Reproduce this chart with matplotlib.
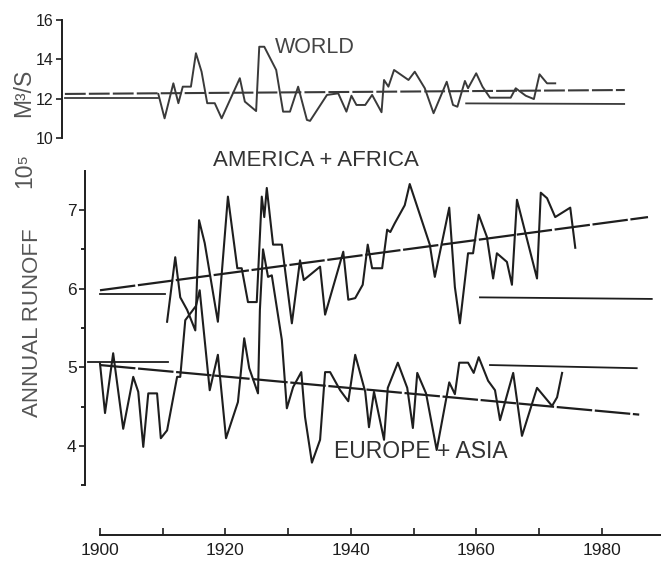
"""
Annual runoff: world total and the two continental groups, with trend and mean lines.
"""
import matplotlib
matplotlib.use("Agg")
from matplotlib import pyplot as plt

# world series (top panel), vertices
world_years = [1909.3, 1910.3, 1911.7, 1912.5, 1913.2, 1914.5, 1915.3, 1916.2, 1917.1,
               1918.3, 1919.4, 1922.3, 1923.1, 1924.9, 1925.4, 1926.2, 1928.1, 1929.2,
               1930.3, 1931.6, 1933.0, 1933.5, 1936.2, 1938.0, 1939.3, 1940.1, 1940.9,
               1942.3, 1943.4, 1944.9, 1945.3, 1946.0, 1946.9, 1949.2, 1950.2, 1951.8,
               1953.2, 1955.3, 1956.3, 1957.0, 1958.2, 1958.7, 1960.0, 1961.0, 1962.2,
               1965.5, 1966.3, 1967.9, 1969.2, 1970.1, 1971.3, 1972.6]
world_vals = [12.24, 11.00, 12.78, 11.77, 12.61, 12.61, 14.31, 13.37, 11.77,
              11.77, 11.00, 13.04, 11.85, 11.37, 14.64, 14.64, 13.46, 11.34,
              11.34, 12.61, 10.92, 10.87, 12.19, 12.27, 11.34, 12.15, 11.68,
              11.68, 12.19, 11.31, 12.95, 12.61, 13.46, 12.95, 13.37, 12.53,
              11.26, 12.86, 11.68, 11.59, 12.90, 12.53, 13.29, 12.61, 12.05,
              12.05, 12.53, 12.15, 11.98, 13.24, 12.78, 12.78]
world_trend_years = [1894.4, 1983.7]
world_trend_vals = [12.24, 12.44]
world_mean1_years = [1894.4, 1909.2]
world_mean1_vals = [12.02, 12.02]
world_mean2_years = [1958.4, 1983.6]
world_mean2_vals = [11.76, 11.73]

# America + Africa
am_years = [1910.7, 1912.0, 1912.8, 1913.9, 1915.2, 1915.8, 1916.7, 1918.8, 1920.4,
            1921.9, 1922.6, 1923.6, 1925.0, 1925.8, 1926.2, 1926.6, 1927.6, 1929.0,
            1930.6, 1931.9, 1932.5, 1935.1, 1935.9, 1938.8, 1939.6, 1940.7, 1941.9,
            1942.7, 1943.4, 1945.0, 1945.8, 1946.3, 1947.0, 1948.6, 1949.4, 1952.6,
            1953.4, 1955.7, 1956.6, 1957.4, 1958.7, 1959.5, 1960.4, 1961.7, 1962.7,
            1963.3, 1964.9, 1965.7, 1966.5, 1969.7, 1970.3, 1971.3, 1972.6, 1975.0,
            1975.8]
am_vals = [5.58, 6.40, 5.89, 5.73, 5.47, 6.87, 6.58, 5.58, 7.17,
           6.26, 6.26, 5.83, 5.83, 7.17, 6.91, 7.28, 6.56, 6.56,
           5.56, 6.36, 6.11, 6.28, 5.67, 6.47, 5.86, 5.88, 6.05,
           6.56, 6.26, 6.26, 6.75, 6.72, 6.83, 7.06, 7.33, 6.56,
           6.15, 7.03, 6.02, 5.56, 6.45, 6.45, 6.94, 6.66, 6.13,
           6.45, 6.34, 6.05, 7.13, 6.13, 7.22, 7.15, 6.91, 7.03,
           6.52]
am_trend_years = [1900.0, 1987.4]
am_trend_vals = [5.98, 6.91]
am_mean1_years = [1900.0, 1910.4]
am_mean1_vals = [5.93, 5.93]
am_mean2_years = [1960.6, 1988.0]
am_mean2_vals = [5.89, 5.87]

# Europe + Asia
eu_years = [1900.0, 1900.8, 1902.1, 1903.7, 1905.3, 1906.1, 1906.9, 1907.7, 1909.1,
            1909.7, 1910.7, 1912.3, 1912.8, 1913.6, 1915.3, 1915.9, 1917.5, 1918.8,
            1920.1, 1922.0, 1923.0, 1923.8, 1925.2, 1925.5, 1926.0, 1926.8, 1927.4,
            1929.0, 1929.8, 1930.8, 1932.1, 1932.7, 1933.8, 1935.1, 1935.9, 1936.7,
            1938.3, 1939.6, 1940.7, 1942.3, 1942.9, 1943.7, 1945.3, 1945.9, 1947.5,
            1949.0, 1949.9, 1950.6, 1952.0, 1953.7, 1955.7, 1956.6, 1957.3, 1958.7,
            1959.6, 1960.4, 1961.9, 1963.0, 1963.8, 1965.9, 1967.3, 1969.7, 1972.1,
            1972.9, 1973.7]
eu_vals = [5.05, 4.42, 5.18, 4.22, 4.88, 4.69, 3.99, 4.67, 4.67,
           4.10, 4.20, 4.88, 4.88, 5.60, 5.78, 5.98, 4.71, 5.16,
           4.10, 4.56, 5.37, 4.99, 4.67, 5.73, 6.50, 6.15, 6.17,
           5.35, 4.48, 4.75, 4.94, 4.37, 3.79, 4.08, 4.94, 4.94,
           4.71, 4.57, 5.16, 4.69, 4.24, 4.69, 4.08, 4.74, 5.06,
           4.74, 4.23, 4.93, 4.67, 3.95, 4.81, 4.66, 5.06, 5.06,
           4.93, 5.13, 4.83, 4.71, 4.33, 4.93, 4.13, 4.74, 4.51,
           4.62, 4.93]
eu_trend_years = [1900.0, 1986.0]
eu_trend_vals = [5.03, 4.40]
eu_mean1_years = [1898.1, 1910.8]
eu_mean1_vals = [5.07, 5.07]
eu_mean2_years = [1962.2, 1985.6]
eu_mean2_vals = [5.03, 4.99]

W, H = 661, 563
INK = "#1e1e1e"
LABEL_FONT = ["Liberation Sans", "DejaVu Sans"]
TICK_FONT = ["Liberation Sans", "DejaVu Sans"]

plt.rcParams["axes.linewidth"] = 1.4
plt.rcParams["axes.edgecolor"] = INK

fig = plt.figure(figsize=(W / 100, H / 100), dpi=100)


def px_axes(x0, y0, x1, y1):
    return fig.add_axes([x0 / W, 1 - y1 / H, (x1 - x0) / W, (y1 - y0) / H])


# axes placed in pixel terms: 1900 sits at x=100 px, 6.27 px per year
ax_top = px_axes(62, 20, 661, 138)
ax_bot = px_axes(85, 171, 661, 535)
ax_top.set_xlim(1900 - 38 / 6.27, 1900 + 561 / 6.27)
ax_bot.set_xlim(1900 - 15 / 6.27, 1900 + 561 / 6.27)
ax_top.set_ylim(10, 16)
ax_bot.set_ylim(7 - 325 / 78.7, 7 + 39 / 78.7)

for ax in (ax_top, ax_bot):
    ax.patch.set_alpha(0)
    ax.spines["top"].set_visible(False)
    ax.spines["right"].set_visible(False)

lw = 1.5
trend_dash = (16, 1.2)

# top panel
ax_top.plot(world_years, world_vals, color="#3a3a3a", lw=1.4)
ax_top.plot(world_trend_years, world_trend_vals, color="#3a3a3a", lw=1.5, dashes=(10, 1.5))
ax_top.plot(world_mean1_years, world_mean1_vals, color="#3a3a3a", lw=1.3)
ax_top.plot(world_mean2_years, world_mean2_vals, color="#3a3a3a", lw=1.3)
ax_top.spines["bottom"].set_visible(False)
ax_top.set_xticks([])
ax_top.set_yticks([10, 12, 14, 16])
ax_top.tick_params(axis="y", direction="out", length=4, width=1.2, pad=2,
                   labelsize=11.5, colors=INK)
for t in ax_top.get_yticklabels():
    t.set_family(TICK_FONT)
ax_top.text(1934.2, 14.6, "WORLD", family=LABEL_FONT, fontsize=15.5,
            color="#444444", ha="center", va="center")

# bottom panel
ax_bot.plot(am_years, am_vals, color=INK, lw=lw)
ax_bot.plot(eu_years, eu_vals, color=INK, lw=lw)
ax_bot.plot(am_trend_years, am_trend_vals, color=INK, lw=1.6, dashes=trend_dash)
ax_bot.plot(eu_trend_years, eu_trend_vals, color=INK, lw=1.6, dashes=trend_dash)
for xs, ys in [(am_mean1_years, am_mean1_vals), (am_mean2_years, am_mean2_vals),
               (eu_mean1_years, eu_mean1_vals), (eu_mean2_years, eu_mean2_vals)]:
    ax_bot.plot(xs, ys, color=INK, lw=1.3)

ax_bot.spines["left"].set_bounds(3.5, 7.5)
ax_bot.spines["bottom"].set_bounds(1900, 1900 + 561 / 6.27)
ax_bot.set_yticks([4, 5, 6, 7])
ax_bot.set_yticks([3.5, 4.5, 5.5, 6.5], minor=True)
ax_bot.set_xticks([1900, 1920, 1940, 1960, 1980])
ax_bot.set_xticks([1910, 1930, 1950, 1970], minor=True)
ax_bot.tick_params(axis="y", which="major", direction="out", length=4, width=1.2,
                   pad=2, labelsize=12.5, colors=INK)
ax_bot.tick_params(axis="y", which="minor", direction="out", length=3, width=1.2)
ax_bot.tick_params(axis="x", which="both", direction="in", length=5, width=1.2,
                   pad=6, labelsize=12.5, colors=INK)
for t in ax_bot.get_yticklabels() + ax_bot.get_xticklabels():
    t.set_family(TICK_FONT)

ax_bot.text(1918, 7.63, "AMERICA + AFRICA", family=LABEL_FONT, fontsize=16,
            color="#333333", ha="left", va="center")
ax_bot.text(1937.3, 3.93, "EUROPE + ASIA", family=LABEL_FONT, fontsize=16.5,
            color="#333333", ha="left", va="center")

# axis title, read bottom to top
fig.text(33 / W, 1 - 323 / H, "ANNUAL RUNOFF", rotation=90, family=LABEL_FONT,
         fontsize=16, color="#555555", ha="center", va="center")
fig.text(25 / W, 1 - 170 / H, "10\u2075", rotation=90, family=LABEL_FONT,
         fontsize=16.5, color="#555555", ha="center", va="center")
fig.text(24 / W, 1 - 93 / H, "M\u00b3/S", rotation=90, family=LABEL_FONT,
         fontsize=16.5, color="#555555", ha="center", va="center")

plt.savefig("out.png", dpi=100)
